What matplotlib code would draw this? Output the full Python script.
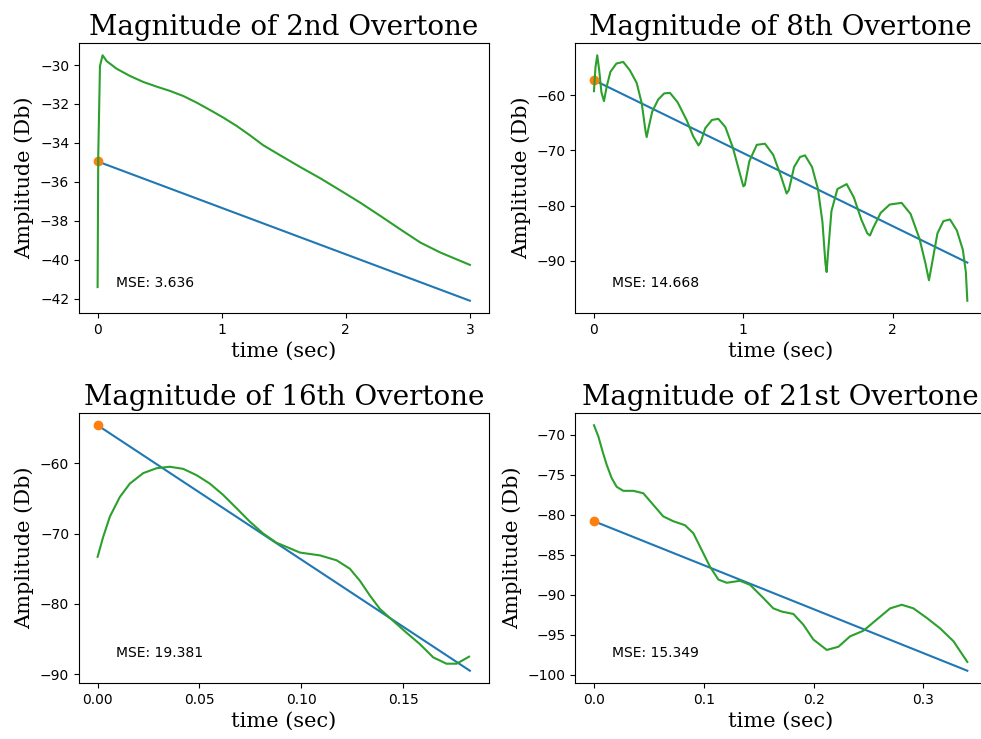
import numpy as np
import matplotlib
matplotlib.use("Agg")
import matplotlib.pyplot as plt
from matplotlib.ticker import MultipleLocator

# ---- datos ----
titles = ["Magnitude of 2nd Overtone", "Magnitude of 8th Overtone",
          "Magnitude of 16th Overtone", "Magnitude of 21st Overtone"]
mse_values = [3.636, 14.668, 19.381, 15.349]
x_steps = [1, 1, 0.05, 0.1]
y_steps = [2, 10, 10, 5]

# 2nd overtone
t_2nd = [0.0, 0.005, 0.019, 0.040, 0.073, 0.153, 0.26, 0.368, 0.476, 0.583,
         0.69, 0.798, 0.906, 1.013, 1.121, 1.228, 1.335, 1.47, 1.631, 1.793,
         1.954, 2.115, 2.277, 2.438, 2.6, 2.76, 3.0]
amp_2nd = [-41.4, -34.67, -30.05, -29.5, -29.8, -30.19, -30.56, -30.87, -31.11, -31.33,
           -31.59, -31.93, -32.31, -32.7, -33.13, -33.61, -34.12, -34.63, -35.23, -35.81,
           -36.43, -37.06, -37.74, -38.43, -39.11, -39.62, -40.26]
fit_t_2nd = [0.0, 3.0]
fit_2nd = [-34.95, -42.1]

# 8th overtone
t_8th = [0.000, 0.010, 0.022, 0.035, 0.050, 0.067, 0.085, 0.110, 0.150, 0.196,
         0.240, 0.286, 0.320, 0.345, 0.353, 0.365, 0.390, 0.430, 0.470, 0.509,
         0.560, 0.620, 0.665, 0.700, 0.715, 0.745, 0.790, 0.833, 0.880, 0.930,
         0.975, 1.000, 1.010, 1.040, 1.090, 1.145, 1.200, 1.250, 1.290, 1.305,
         1.340, 1.380, 1.413, 1.460, 1.500, 1.530, 1.550, 1.558, 1.566, 1.590,
         1.630, 1.692, 1.740, 1.790, 1.830, 1.848, 1.870, 1.920, 1.980, 2.060,
         2.120, 2.180, 2.220, 2.243, 2.260, 2.300, 2.340, 2.384, 2.430, 2.470,
         2.490, 2.500]
amp_8th = [-59.3, -55.0, -52.8, -55.5, -59.5, -61.1, -58.5, -55.8, -54.3, -54.0,
           -55.5, -57.8, -61.5, -66.5, -67.6, -66.0, -63.0, -60.8, -59.7, -59.6,
           -61.3, -64.5, -67.5, -69.1, -68.5, -66.0, -64.5, -64.3, -65.8, -69.5,
           -74.0, -76.5, -76.3, -72.0, -69.0, -68.8, -70.8, -74.5, -77.8, -77.2,
           -73.0, -71.2, -70.9, -73.0, -77.0, -83.0, -90.5, -92.0, -89.0, -81.0,
           -77.0, -76.1, -78.5, -82.5, -85.0, -85.4, -84.0, -81.3, -79.8, -79.5,
           -81.5, -86.0, -90.5, -93.5, -91.0, -85.0, -82.8, -82.5, -84.5, -88.0,
           -92.0, -97.2]
fit_t_8th = [0.0, 2.5]
fit_8th = [-57.3, -90.3]

# 16th overtone
t_16th = [0.0, 0.0027, 0.006, 0.0109, 0.0158, 0.0224, 0.029, 0.0355, 0.042, 0.0486,
          0.0551, 0.0616, 0.0682, 0.0747, 0.0813, 0.0878, 0.0944, 0.0993, 0.1091, 0.1173,
          0.1238, 0.1287, 0.1336, 0.1385, 0.145, 0.1516, 0.1581, 0.1647, 0.1712, 0.1762,
          0.1823]
amp_16th = [-73.3, -70.5, -67.6, -64.8, -62.9, -61.4, -60.7, -60.5, -60.8, -61.7,
            -62.9, -64.5, -66.4, -68.3, -70.0, -71.3, -72.1, -72.7, -73.1, -73.8,
            -75.0, -76.7, -78.8, -80.7, -82.4, -84.1, -85.7, -87.6, -88.5, -88.5,
            -87.5]
fit_t_16th = [0.0, 0.1827]
fit_16th = [-54.6, -89.5]

# 21st overtone
t_21st = [0.0, 0.004, 0.0079, 0.0116, 0.0161, 0.0207, 0.0267, 0.0358, 0.0449, 0.054,
          0.0631, 0.0722, 0.0829, 0.0905, 0.0981, 0.1057, 0.1133, 0.1209, 0.133, 0.1421,
          0.1542, 0.1633, 0.171, 0.1816, 0.1907, 0.1998, 0.212, 0.2226, 0.2332, 0.2453,
          0.2575, 0.2697, 0.2803, 0.2909, 0.3031, 0.3152, 0.3273, 0.34]
amp_21st = [-68.8, -70.2, -72.1, -73.75, -75.4, -76.5, -77.0, -77.0, -77.3, -78.75,
            -80.2, -80.8, -81.3, -82.3, -84.4, -86.5, -88.1, -88.5, -88.25, -88.75,
            -90.4, -91.7, -92.1, -92.4, -93.75, -95.6, -96.9, -96.5, -95.2, -94.5,
            -93.1, -91.7, -91.25, -91.7, -92.9, -94.2, -95.8, -98.4]
fit_t_21st = [0.0, 0.34]
fit_21st = [-80.8, -99.5]

curvas = [(t_2nd, amp_2nd, fit_t_2nd, fit_2nd),
          (t_8th, amp_8th, fit_t_8th, fit_8th),
          (t_16th, amp_16th, fit_t_16th, fit_16th),
          (t_21st, amp_21st, fit_t_21st, fit_21st)]

W, H = 981, 739
fig = plt.figure(figsize=(W / 100, H / 100), dpi=100)

# posiciones de los ejes en pixeles (izq, der, arriba, abajo)
cajas = [(79, 488.5, 43, 313), (575.3, 986, 43, 313),
         (79, 488.5, 413, 683), (575.3, 986, 413, 683)]

for i, (t, amp, ft, fv) in enumerate(curvas):
    x0, x1, y0, y1 = cajas[i]
    ax = fig.add_axes([x0 / W, 1 - y1 / H, (x1 - x0) / W, (y1 - y0) / H])
    ax.plot(ft, fv, color='C0')
    ax.plot(ft[0], fv[0], 'o', color='C1')
    ax.plot(t, amp, color='C2')
    ax.xaxis.set_major_locator(MultipleLocator(x_steps[i]))
    ax.yaxis.set_major_locator(MultipleLocator(y_steps[i]))
    ax.set_title(titles[i], fontsize=20, family='DejaVu Serif')
    ax.set_xlabel('time (sec)', fontsize=15, family='DejaVu Serif')
    ax.set_ylabel('Amplitude (Db)', fontsize=15, family='DejaVu Serif')
    ax.text(0.09, 0.095, f'MSE: {mse_values[i]}', transform=ax.transAxes, fontsize=10)

plt.savefig('out.png', dpi=100)
plt.close()
